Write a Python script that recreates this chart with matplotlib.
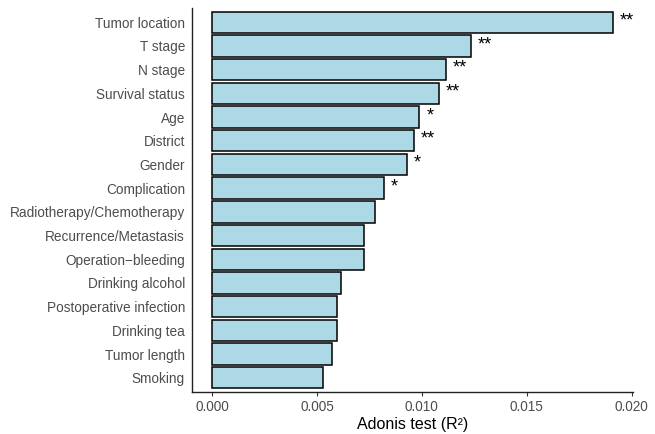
import matplotlib.pyplot as plt
import numpy as np

plt.rcParams['font.family'] = ['Liberation Sans', 'DejaVu Sans']

# factors, top to bottom
factors = ['Tumor location', 'T stage', 'N stage', 'Survival status', 'Age',
           'District', 'Gender', 'Complication', 'Radiotherapy/Chemotherapy',
           'Recurrence/Metastasis', 'Operation\u2212bleeding', 'Drinking alcohol',
           'Postoperative infection', 'Drinking tea', 'Tumor length', 'Smoking']
r2 = [0.01911, 0.01233, 0.01116, 0.01081, 0.00988, 0.00961, 0.00929, 0.00820,
      0.00776, 0.00725, 0.00723, 0.00613, 0.00594, 0.00595, 0.00570, 0.00529]
signif = ['**', '**', '**', '**', '*', '**', '*', '*',
          '', '', '', '', '', '', '', '']
xticks = [0.000, 0.005, 0.010, 0.015, 0.020]

fig = plt.figure(figsize=(6.55, 4.34), dpi=100)
ax = fig.add_axes([0.2931, 0.0968, 0.6733, 0.8848])

y = np.arange(len(factors))[::-1]
ax.barh(y, r2, height=0.9, color='#ADD8E6', edgecolor='black', linewidth=1.1)

for yi, v, s in zip(y, r2, signif):
    if s:
        ax.annotate(s, (v, yi), xytext=(5, 1), textcoords='offset points',
                    ha='left', va='center', fontsize=13, color='black')

ax.set_yticks(y)
ax.set_yticklabels(factors, fontsize=9.8, color='#4D4D4D')
ax.set_xticks(xticks)
ax.set_xticklabels([f'{t:.3f}' for t in xticks], fontsize=9.8, color='#4D4D4D')
ax.set_xlim(-0.00096, 0.02007)
ax.set_ylim(-0.6, len(factors) - 0.4)
ax.set_xlabel('Adonis test (R\u00b2)', fontsize=11.5, color='black', labelpad=2)

ax.tick_params(axis='y', length=0, pad=5)
ax.tick_params(axis='x', length=3, width=0.8, color='#333333', pad=3)
for side in ['top', 'right']:
    ax.spines[side].set_visible(False)
for side in ['left', 'bottom']:
    ax.spines[side].set_linewidth(1.0)
    ax.spines[side].set_color('#222222')

fig.savefig('out.png', dpi=100)
